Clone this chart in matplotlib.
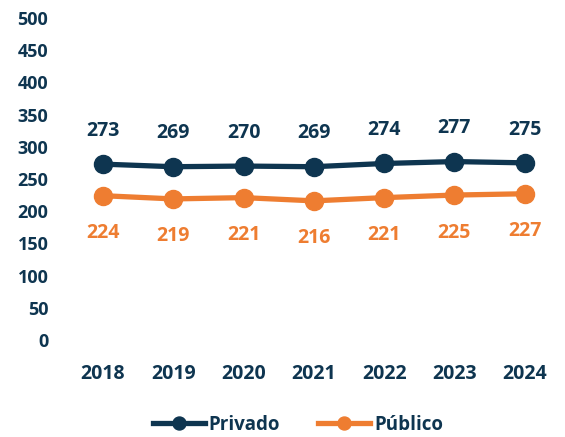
import matplotlib
matplotlib.use('Agg')
import matplotlib.pyplot as plt

years = ['2018', '2019', '2020', '2021', '2022', '2023', '2024']
privado = [273, 269, 270, 269, 274, 277, 275]
publico = [224, 219, 221, 216, 221, 225, 227]

navy = '#0E3550'
orange = '#EE7D31'

plt.rcParams['font.family'] = ['Open Sans', 'DejaVu Sans']
plt.rcParams['font.weight'] = 'bold'

fig = plt.figure(figsize=(5.65, 4.37), dpi=100)
ax = fig.add_axes([0.120, 0.222, 0.871, 0.737])

x = range(len(years))
ax.plot(x, privado, color=navy, lw=3.8, marker='o', ms=13, label='Privado')
ax.plot(x, publico, color=orange, lw=3.8, marker='o', ms=13, label='Público')

for i in x:
    ax.annotate(str(privado[i]), (i, privado[i]), xytext=(0, 24), textcoords='offset points',
                ha='center', va='center', color=navy, fontsize=14, fontweight='bold')
    ax.annotate(str(publico[i]), (i, publico[i]), xytext=(0, -27), textcoords='offset points',
                ha='center', va='center', color=orange, fontsize=14, fontweight='bold')

ax.set_xlim(-0.5, len(years) - 0.5)
ax.set_ylim(0, 500)
ax.set_yticks(range(0, 501, 50))
ax.set_xticks(list(x))
ax.set_xticklabels(years)
for s in ax.spines.values():
    s.set_visible(False)
ax.tick_params(axis='y', length=0, labelsize=13, labelcolor=navy, pad=14)
ax.tick_params(axis='x', length=0, labelsize=14, labelcolor=navy, pad=17)
for lab in ax.get_xticklabels() + ax.get_yticklabels():
    lab.set_fontweight('bold')

leg = fig.legend(loc='center', bbox_to_anchor=(0.527, 0.028), ncol=2, frameon=False,
                 fontsize=13.5, handlelength=2.8, columnspacing=2.0, handletextpad=0.2,
                 markerscale=0.72)
for t in leg.get_texts():
    t.set_color(navy)
    t.set_fontweight('bold')

fig.savefig('out.png', dpi=100)
